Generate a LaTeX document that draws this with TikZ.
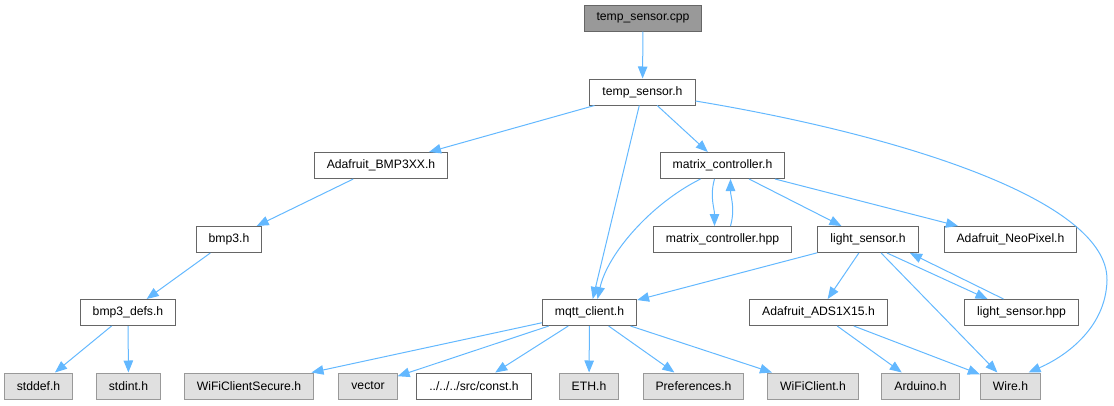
\documentclass[tikz,border=0pt]{standalone}
\usepackage{fontspec}
\setmainfont{Liberation Sans}
\usepackage{tikz}
\usetikzlibrary{arrows.meta}

\definecolor{edgeblue}{HTML}{63B8FF}
\definecolor{boxline}{HTML}{666666}
\definecolor{sysline}{HTML}{999999}
\definecolor{sysfill}{HTML}{E0E0E0}
\definecolor{rootfill}{HTML}{999999}

\begin{document}
\begin{tikzpicture}[
  x=1pt,
  y=-1pt,
  line join=miter,
  file/.style={
    draw=boxline,
    fill=white,
    line width=1pt,
    minimum height=26pt,
    inner xsep=12.5pt,
    inner ysep=0pt,
    font=\fontsize{12.2}{14}\selectfont
  },
  rootfile/.style={
    file,
    fill=rootfill,
    draw=boxline
  },
  sysfile/.style={
    file,
    fill=sysfill,
    draw=sysline
  },
  dep/.style={
    -{Triangle[length=12pt,width=9.5pt]},
    line width=1pt,
    draw=edgeblue
  }
]

\useasboundingbox (0,0) rectangle (1114,405);

% =========================================================
% Upper levels
% =========================================================

\node[rootfile] (cpp) at (643,18) {temp\_sensor.cpp};

\node[file] (tsh) at (642.5,92) {temp\_sensor.h};

\node[file] (bmp3xx) at (381,165.5) {Adafruit\_BMP3XX.h};

\node[file] (matrixh) at (722.5,165.5) {matrix\_controller.h};

\node[file] (bmp3) at (229,239.5) {bmp3.h};

\node[file] (matrixhpp) at (722.5,239.5) {matrix\_controller.hpp};

\node[file] (lighth) at (868,239.5) {light\_sensor.h};

\node[file] (neopixel) at (1010.5,239.5) {Adafruit\_NeoPixel.h};

\node[file] (bmp3defs) at (128,312.5) {bmp3\_defs.h};

\node[file] (mqtt) at (589.5,312.5) {mqtt\_client.h};

\node[file] (ads) at (818.5,312.5) {Adafruit\_ADS1X15.h};

\node[file] (lighthpp) at (1021.5,312.5) {light\_sensor.hpp};

% =========================================================
% Bottom row: leaf headers
% =========================================================

\node[sysfile] (stddef) at (38.5,386) {stddef.h};
\node[sysfile] (stdint) at (128.5,386) {stdint.h};
\node[sysfile] (wifisecure) at (249,386) {WiFiClientSecure.h};
\node[sysfile] (vector) at (368,386) {vector};
\node[file] (const) at (474,386) {../../../src/const.h};
\node[sysfile] (eth) at (589,386) {ETH.h};
\node[sysfile] (prefs) at (693.5,386) {Preferences.h};
\node[sysfile] (wificlient) at (813,386) {WiFiClient.h};
\node[sysfile] (arduino) at (920.5,386) {Arduino.h};
\node[sysfile] (wire) at (1010.5,386) {Wire.h};

% =========================================================
% Include edges
% =========================================================

\draw[dep] (cpp) -- (tsh);

\draw[dep] (tsh) -- (bmp3xx);
\draw[dep] (tsh) -- (mqtt);
\draw[dep] (tsh) -- (matrixh);
\draw[dep] ([yshift=-9pt]tsh.east) .. controls (900,135) and (1108,200) .. (1107,280)
  .. controls (1106,330) and (1062,358) .. ([xshift=18pt]wire.north);

\draw[dep] (bmp3xx) -- (bmp3);
\draw[dep] (bmp3) -- (bmp3defs);
\draw[dep] (bmp3defs) -- (stddef);
\draw[dep] (bmp3defs) -- (stdint);

% matrix controller and its implementation
\draw[dep] ([xshift=-22pt]matrixh.south) .. controls +(-50,25) and +(10,-45) .. ([xshift=8pt]mqtt.north);
\draw[dep] ([xshift=-8pt]matrixh.south) .. controls +(-5,18) and +(0,-18) .. ([xshift=-8pt]matrixhpp.north);
\draw[dep] ([xshift=8pt]matrixhpp.north) .. controls +(5,-18) and +(0,18) .. ([xshift=8pt]matrixh.south);
\draw[dep] (matrixh) -- (lighth);
\draw[dep] (matrixh) -- (neopixel);

% light sensor
\draw[dep] (lighth) -- (mqtt);
\draw[dep] (lighth) -- (ads);
\draw[dep] (lighth) -- (wire);
\draw[dep] ([xshift=19pt]lighth.south) -- ([xshift=-34pt]lighthpp.north);
\draw[dep] ([xshift=-18pt]lighthpp.north) -- ([xshift=42pt]lighth.south);

\draw[dep] (ads) -- (arduino);
\draw[dep] (ads) -- (wire);

% mqtt client
\draw[dep] (mqtt) -- (wifisecure);
\draw[dep] (mqtt) -- (vector);
\draw[dep] (mqtt) -- (const);
\draw[dep] (mqtt) -- (eth);
\draw[dep] (mqtt) -- (prefs);
\draw[dep] (mqtt) -- (wificlient);

\end{tikzpicture}
\end{document}
